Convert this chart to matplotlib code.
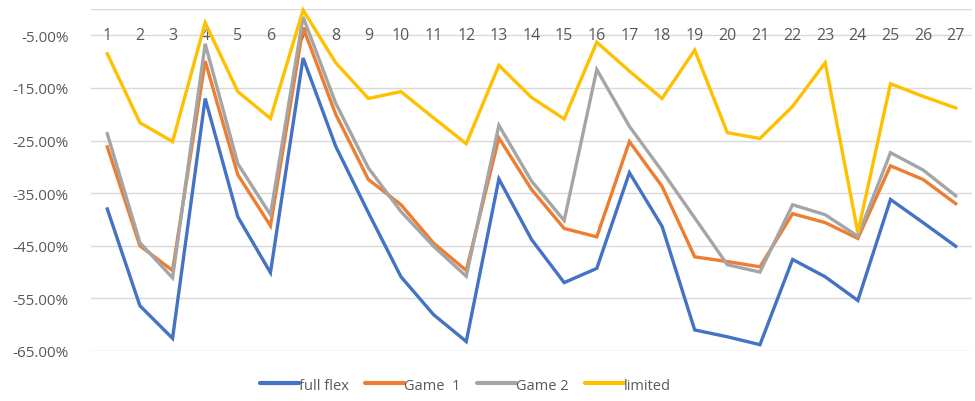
import matplotlib.pyplot as plt
from matplotlib.ticker import FuncFormatter

cats = list(range(1, 28))

full_flex = [-38.0, -56.4, -62.6, -17.0, -39.5, -50.1, -9.3, -26.1, -38.7, -50.9,
             -58.1, -63.2, -32.3, -43.8, -52.0, -49.3, -31.1, -41.3, -61.0, -62.3,
             -63.8, -47.6, -50.9, -55.4, -36.2, -40.6, -45.1]
game1 = [-26.2, -45.0, -49.7, -9.9, -31.5, -41.2, -3.5, -20.0, -32.4, -37.2,
         -44.5, -49.7, -24.5, -34.3, -41.7, -43.3, -25.2, -33.7, -47.1, -48.0,
         -49.0, -38.9, -40.6, -43.6, -29.8, -32.4, -37.0]
game2 = [-23.7, -44.4, -51.1, -6.6, -29.4, -39.1, -1.5, -17.9, -30.2, -38.5,
         -45.1, -50.8, -22.1, -32.7, -40.2, -11.5, -22.3, -30.8, -39.7, -48.6,
         -50.0, -37.2, -39.1, -43.2, -27.3, -30.6, -35.5]
limited = [-8.5, -21.6, -25.2, -2.6, -15.7, -20.8, -0.2, -10.2, -17.0, -15.7,
           -20.7, -25.6, -10.7, -16.8, -20.9, -6.3, -11.8, -17.0, -7.8, -23.5,
           -24.6, -18.5, -10.2, -42.5, -14.2, -16.6, -18.8]

series = [("full flex", full_flex, "#4472C4"),
          ("Game  1", game1, "#ED7D31"),
          ("Game 2", game2, "#A5A5A5"),
          ("limited", limited, "#FFC000")]

yticks = [-5, -15, -25, -35, -45, -55, -65]

plt.rcParams['font.family'] = ['Open Sans', 'DejaVu Sans']

fig = plt.figure(figsize=(9.75, 4.02), dpi=100)
ax = fig.add_axes([0.0933, 0.1244, 0.9037, 0.8506])

for name, vals, col in series:
    ax.plot(cats, [v / 100 for v in vals], color=col, lw=2.4, label=name,
            solid_joinstyle='miter', clip_on=False, zorder=3)

ax.set_xlim(0.5, 27.5)
ax.set_ylim(-0.65, 0)
ax.set_yticks([t / 100 for t in yticks + [0]])
ax.yaxis.set_major_formatter(FuncFormatter(lambda v, p: "" if v == 0 else f"{v * 100:.2f}%"))
ax.grid(axis='y', color='#D9D9D9', lw=1)
ax.set_axisbelow(True)
ax.tick_params(axis='y', length=0, labelsize=11, colors='#595959', pad=16)
ax.set_xticks([])
for s in ax.spines.values():
    s.set_visible(False)

for c in cats:
    ax.text(c, -0.05, str(c), ha='center', va='center', fontsize=11.5,
            color='#595959', zorder=2)

leg = ax.legend(loc='lower center', bbox_to_anchor=(0.425, -0.16), ncol=4, frameon=False,
                fontsize=10.5, handlelength=2.7, handletextpad=0.0, columnspacing=1.1,
                labelcolor='#595959')
for h in leg.get_lines():
    h.set_linewidth(3)
    h.set_solid_capstyle('round')

fig.savefig("out.png", dpi=100)
